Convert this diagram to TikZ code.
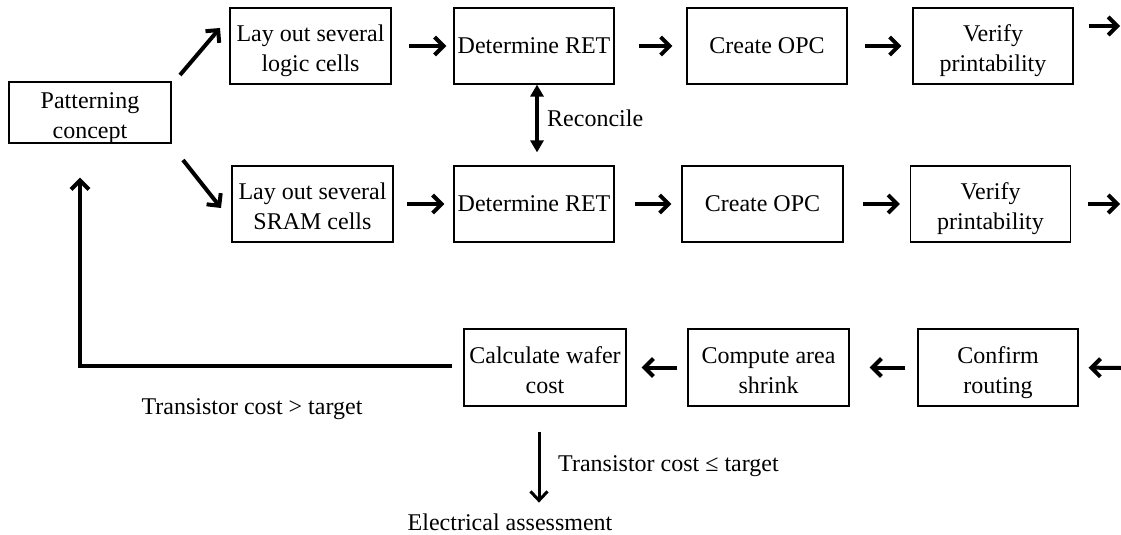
\documentclass[tikz,border=0pt]{standalone}
\usepackage{fontspec}
\setmainfont{Liberation Serif}
\usetikzlibrary{arrows.meta,calc}
\newcommand\twoline[2]{\raisebox{-4.5pt}[\height][\depth]{\begin{tabular}{@{}c@{}}#1\\#2\end{tabular}}}
\tikzset{
  txt/.style={font=\fontsize{24}{30}\selectfont},
  box/.style={txt, draw, line width=1.2pt, inner sep=0pt, minimum width=160pt, minimum height=76pt, align=center},
  lbl/.style={txt, inner sep=0pt},
  arr/.style={line width=4pt, -{Straight Barb[length=9pt,width=18pt]}},
  arrthin/.style={line width=3pt, -{Straight Barb[length=9pt,width=17pt]}},
  dbl/.style={line width=4pt, {Triangle[length=12pt,width=13pt]}-{Triangle[length=12pt,width=13pt]}},
}
\begin{document}
\begin{tikzpicture}[x=1pt,y=-1pt]
\useasboundingbox (0,0) rectangle (1121,535);
% top row
\node[box, minimum width=162pt, minimum height=61pt] (pat) at (90,112.5) {\twoline{Patterning}{concept}};
\node[box, minimum width=161pt] (logic) at (310.5,46) {\twoline{Lay out several}{logic cells}};
\node[box] (ret1) at (534,46) {Determine RET};
\node[box] (opc1) at (767,46) {Create OPC};
\node[box] (ver1) at (993,46) {\twoline{Verify}{printability}};
% second row
\node[box, minimum width=161pt] (sram) at (312.5,204) {\twoline{Lay out several}{SRAM cells}};
\node[box] (ret2) at (534,204) {Determine RET};
\node[box, minimum width=161pt] (opc2) at (762.5,204) {Create OPC};
\node[box] (ver2) at (990.5,204) {\twoline{Verify}{printability}};
% bottom row
\node[box, minimum width=162pt, minimum height=77pt] (calc) at (545,367.5) {\twoline{Calculate wafer}{cost}};
\node[box, minimum width=161pt, minimum height=77pt] (comp) at (768.5,367.5) {\twoline{Compute area}{shrink}};
\node[box, minimum height=77pt] (conf) at (998,367.5) {\twoline{Confirm}{routing}};
% labels
\node[lbl, anchor=west] (rec) at (547,118) {Reconcile};
\node[lbl] (gt) at (252,409) {Transistor cost > target};
\node[lbl, anchor=west] (le) at (558,466) {Transistor cost ≤ target};
\node[lbl] (elec) at (510,522) {Electrical assessment};
% free ends
\coordinate (d1s) at (180,75);
\coordinate (d1e) at (220,28);
\coordinate (d2s) at (183,160);
\coordinate (d2e) at (221,208);
\coordinate (o1) at (1120,26);
\coordinate (o2) at (1120,204);
\coordinate (i3) at (1121,368);
% connectors
\draw[arr] (d1s) -- (d1e);
\draw[arr] (d2s) -- (d2e);
\draw[arr, shorten <=17pt, shorten >=7pt] (logic.east) -- (ret1.west);
\draw[arr, shorten <=24pt, shorten >=14pt] (ret1.east) -- (opc1.west);
\draw[arr, shorten <=17pt, shorten >=11pt] (opc1.east) -- (ver1.west);
\draw[arr] ([xshift=15pt,yshift=20pt]ver1.east) -- (o1);
\draw[arr, shorten <=13pt, shorten >=9pt] (sram.east) -- (ret2.west);
\draw[arr, shorten <=20pt, shorten >=10pt] (ret2.east) -- (opc2.west);
\draw[arr, shorten <=19pt, shorten >=10pt] (opc2.east) -- (ver2.west);
\draw[arr, shorten <=17pt] (ver2.east) -- (o2);
\draw[dbl] ([xshift=3pt]ret1.south) -- ([xshift=3pt,yshift=13pt]ret2.north);
\draw[arr, shorten >=10pt] (i3) -- (conf.east);
\draw[arr, shorten <=12pt, shorten >=20pt] (conf.west) -- (comp.east);
\draw[arr, shorten <=10pt, shorten >=15pt] (comp.west) -- (calc.east);
\draw[arr] ([xshift=-11pt,yshift=2pt]calc.west) -| ([xshift=-10pt,yshift=-34pt]pat.south);
\draw[arrthin] ([xshift=-6pt,yshift=-25pt]calc.south) -- ++(0,71);
\end{tikzpicture}
\end{document}
